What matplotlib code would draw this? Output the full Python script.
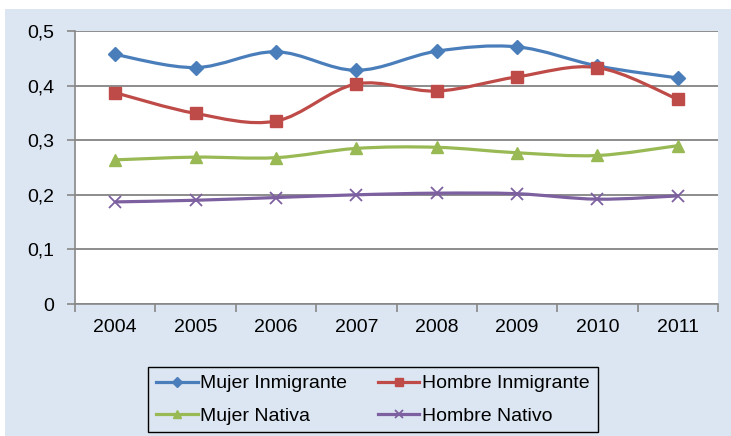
import numpy as np
import matplotlib
matplotlib.use("Agg")
import matplotlib.pyplot as plt
from matplotlib.path import Path
from matplotlib.patches import PathPatch, Rectangle
from matplotlib.ticker import FuncFormatter, FixedLocator

plt.rcParams['font.family'] = ['Liberation Sans', 'DejaVu Sans']

years = ['2004', '2005', '2006', '2007', '2008', '2009', '2010', '2011']
mujer_inmigrante = [0.457, 0.433, 0.462, 0.428, 0.463, 0.471, 0.436, 0.414]
hombre_inmigrante = [0.387, 0.349, 0.335, 0.403, 0.390, 0.416, 0.433, 0.375]
mujer_nativa = [0.264, 0.269, 0.268, 0.285, 0.287, 0.277, 0.272, 0.290]
hombre_nativo = [0.187, 0.190, 0.195, 0.200, 0.203, 0.202, 0.192, 0.198]

series = [
    ('Mujer Inmigrante', mujer_inmigrante, '#4A7EBB', 'D', 7),
    ('Hombre Inmigrante', hombre_inmigrante, '#BE4B48', 's', 8.5),
    ('Mujer Nativa', mujer_nativa, '#98B954', '^', 8),
    ('Hombre Nativo', hombre_nativo, '#7D60A0', 'x', 8),
]

bg = '#DCE6F2'


# excel style smooth line: catmull-rom turned into cubic bezier segments
def smooth_path(xs, ys):
    p = np.column_stack([xs, ys]).astype(float)
    n = len(p)
    verts = [p[0]]
    codes = [Path.MOVETO]
    for i in range(n - 1):
        prev = p[i - 1] if i > 0 else p[i]
        nxt = p[i + 2] if i + 2 < n else p[i + 1]
        c1 = p[i] + (p[i + 1] - prev) / 6.0
        c2 = p[i + 1] - (nxt - p[i]) / 6.0
        verts += [c1, c2, p[i + 1]]
        codes += [Path.CURVE4] * 3
    return Path(verts, codes)


fig = plt.figure(figsize=(7.31, 4.36), dpi=100, facecolor='white')
fig.patches.append(Rectangle((5 / 731, 0), 1 - 5 / 731, 1 - 9 / 436,
                             transform=fig.transFigure, facecolor=bg,
                             edgecolor='none', zorder=-10))

ax = fig.add_axes([75 / 731, 1 - 304 / 436, (718 - 75) / 731, (304 - 31) / 436])
ax.set_facecolor('white')

x = np.arange(len(years))
handles = {}
for name, vals, col, mk, ms in series:
    ax.add_patch(PathPatch(smooth_path(x, vals), facecolor='none',
                           edgecolor=col, lw=2.3, zorder=3))
    if mk == 'x':
        ax.plot(x, vals, linestyle='none', marker=mk, color=col, ms=ms,
                mew=1.3, zorder=4)
    else:
        ax.plot(x, vals, linestyle='none', marker=mk, color=col, ms=ms,
                mec=col, zorder=4)
    # legend proxy
    h, = ax.plot([], [], color=col, lw=2.3, marker=mk, ms=ms * 0.75,
                 mew=1.3 if mk == 'x' else 1, label=name)
    handles[name] = h

ax.set_xlim(-0.5, len(years) - 0.5)
ax.set_ylim(0, 0.5)
ax.set_xticks(x)
ax.set_xticklabels(years, fontsize=14)
ax.xaxis.set_minor_locator(FixedLocator(np.arange(-0.5, len(years), 1.0)))
ax.tick_params(axis='x', which='major', length=0, pad=11)
ax.tick_params(axis='x', which='minor', length=6, color='#888888', width=1.2)
ax.set_yticks(np.arange(0, 0.51, 0.1))
ax.yaxis.set_major_formatter(FuncFormatter(
    lambda v, pos: '0' if abs(v) < 1e-9 else ('%.1f' % v).replace('.', ',')))
ax.tick_params(axis='y', labelsize=14, length=6, color='#888888', width=1.2,
               pad=9)
ax.grid(axis='y', color='#8C8C8C', lw=1.4, zorder=0)
ax.set_axisbelow(True)
for side in ['top', 'right']:
    ax.spines[side].set_visible(False)
for side in ['left', 'bottom']:
    ax.spines[side].set_color('#888888')
    ax.spines[side].set_linewidth(1.2)

# row-major order like the original: matplotlib fills columns first
order = ['Mujer Inmigrante', 'Mujer Nativa', 'Hombre Inmigrante', 'Hombre Nativo']
leg = fig.legend([handles[k] for k in order], order,
                 loc='upper left', bbox_to_anchor=(148 / 731, 1 - 367 / 436),
                 ncol=2, fontsize=14, frameon=True, fancybox=False,
                 handlelength=2.15, handletextpad=0.15, columnspacing=1.55,
                 labelspacing=0.75, borderpad=0.4, borderaxespad=0)
leg.get_frame().set_facecolor(bg)
leg.get_frame().set_edgecolor('black')
leg.get_frame().set_linewidth(1.0)
leg.get_frame().set_alpha(1)

fig.savefig('out.png', dpi=100, facecolor='white')
